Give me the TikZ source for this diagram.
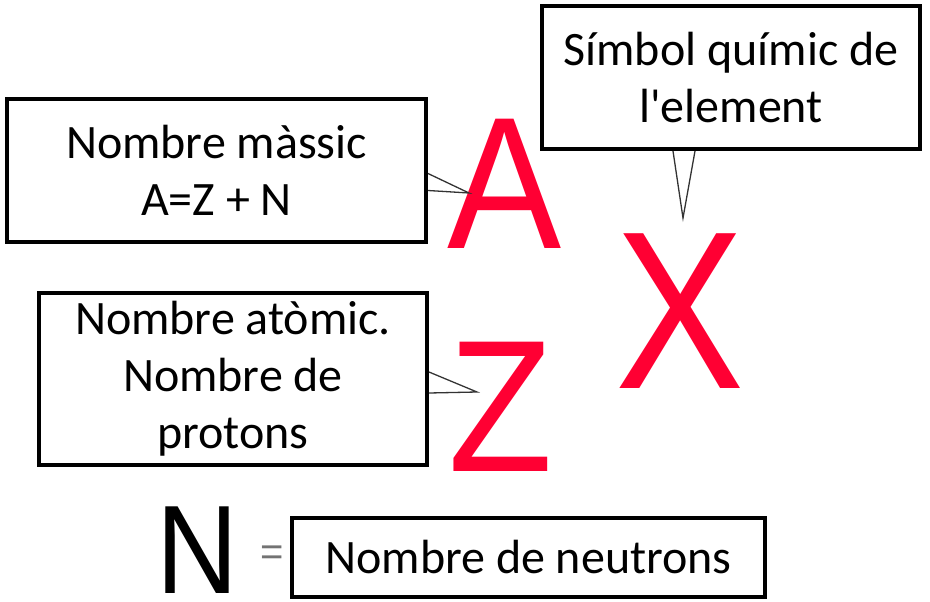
\documentclass[tikz,border=0pt]{standalone}
\usepackage{fontspec}
\setmainfont{Carlito}
\newfontfamily\caixafont{Carlito}
\newfontfamily\lletrafont{Liberation Sans}
\usetikzlibrary{positioning}
\definecolor{vermell}{RGB}{255,0,51}
\tikzset{
  caixa/.style={draw, line width=4pt, fill=white, align=center, inner sep=0pt,
    font=\caixafont\fontsize{48}{57}\selectfont},
  lletra/.style={text=vermell, inner sep=0pt, anchor=base, text depth=0pt},
  punter/.style={draw=black!80, line width=1.3pt, line join=miter},
}

\begin{document}
\begin{tikzpicture}[x=1pt, y=-1pt]
  \useasboundingbox (0,0) rectangle (930,602);
  % cajas de texto
  \node[caixa, minimum width=419pt, minimum height=143pt] (massic) at (216.5,170.5) {Nombre màssic\\A=Z + N};
  \node[caixa, minimum width=378pt, minimum height=143pt] (simbol) at (731,77.5) {Símbol químic de\\l'element};
  \node[caixa, minimum width=388pt, minimum height=172pt] (atomic) at (233,379) {Nombre atòmic.\\Nombre de\\protons};
  \node[caixa, minimum width=473pt, minimum height=79pt] (neutrons) at (528.5,557.5) {Nombre de neutrons};
  % letras
  \node[lletra, font=\lletrafont\fontsize{188}{188}\selectfont, xscale=0.91] (A) at (505,248) {A};
  \node[lletra, font=\lletrafont\fontsize{188}{188}\selectfont, xscale=0.91] (Z) at (501,471) {Z};
  \node[lletra, font=\lletrafont\fontsize{225}{225}\selectfont, xscale=0.86] (X) at (680,388) {X};
  \node[lletra, text=black, font=\lletrafont\fontsize{126}{126}\selectfont, xscale=0.9] (N) at (197,593) {N};
  \node[text=black!55, inner sep=0pt, font=\lletrafont\fontsize{40}{40}\selectfont] (igual) at (272,556) {=};
  % punteros
  \coordinate (puntaA) at (469,193);
  \coordinate (puntaX) at (683,218);
  \coordinate (puntaZ) at (477,392);
  \draw[punter] ([yshift=-3pt]massic.east) -- (puntaA) -- ([yshift=-20pt]massic.east);
  \draw[punter] ([xshift=-58pt]simbol.south) -- (puntaX) -- ([xshift=-36pt]simbol.south);
  \draw[punter] ([yshift=7pt]atomic.east) -- (puntaZ) -- ([yshift=-14pt]atomic.east);
\end{tikzpicture}
\end{document}
